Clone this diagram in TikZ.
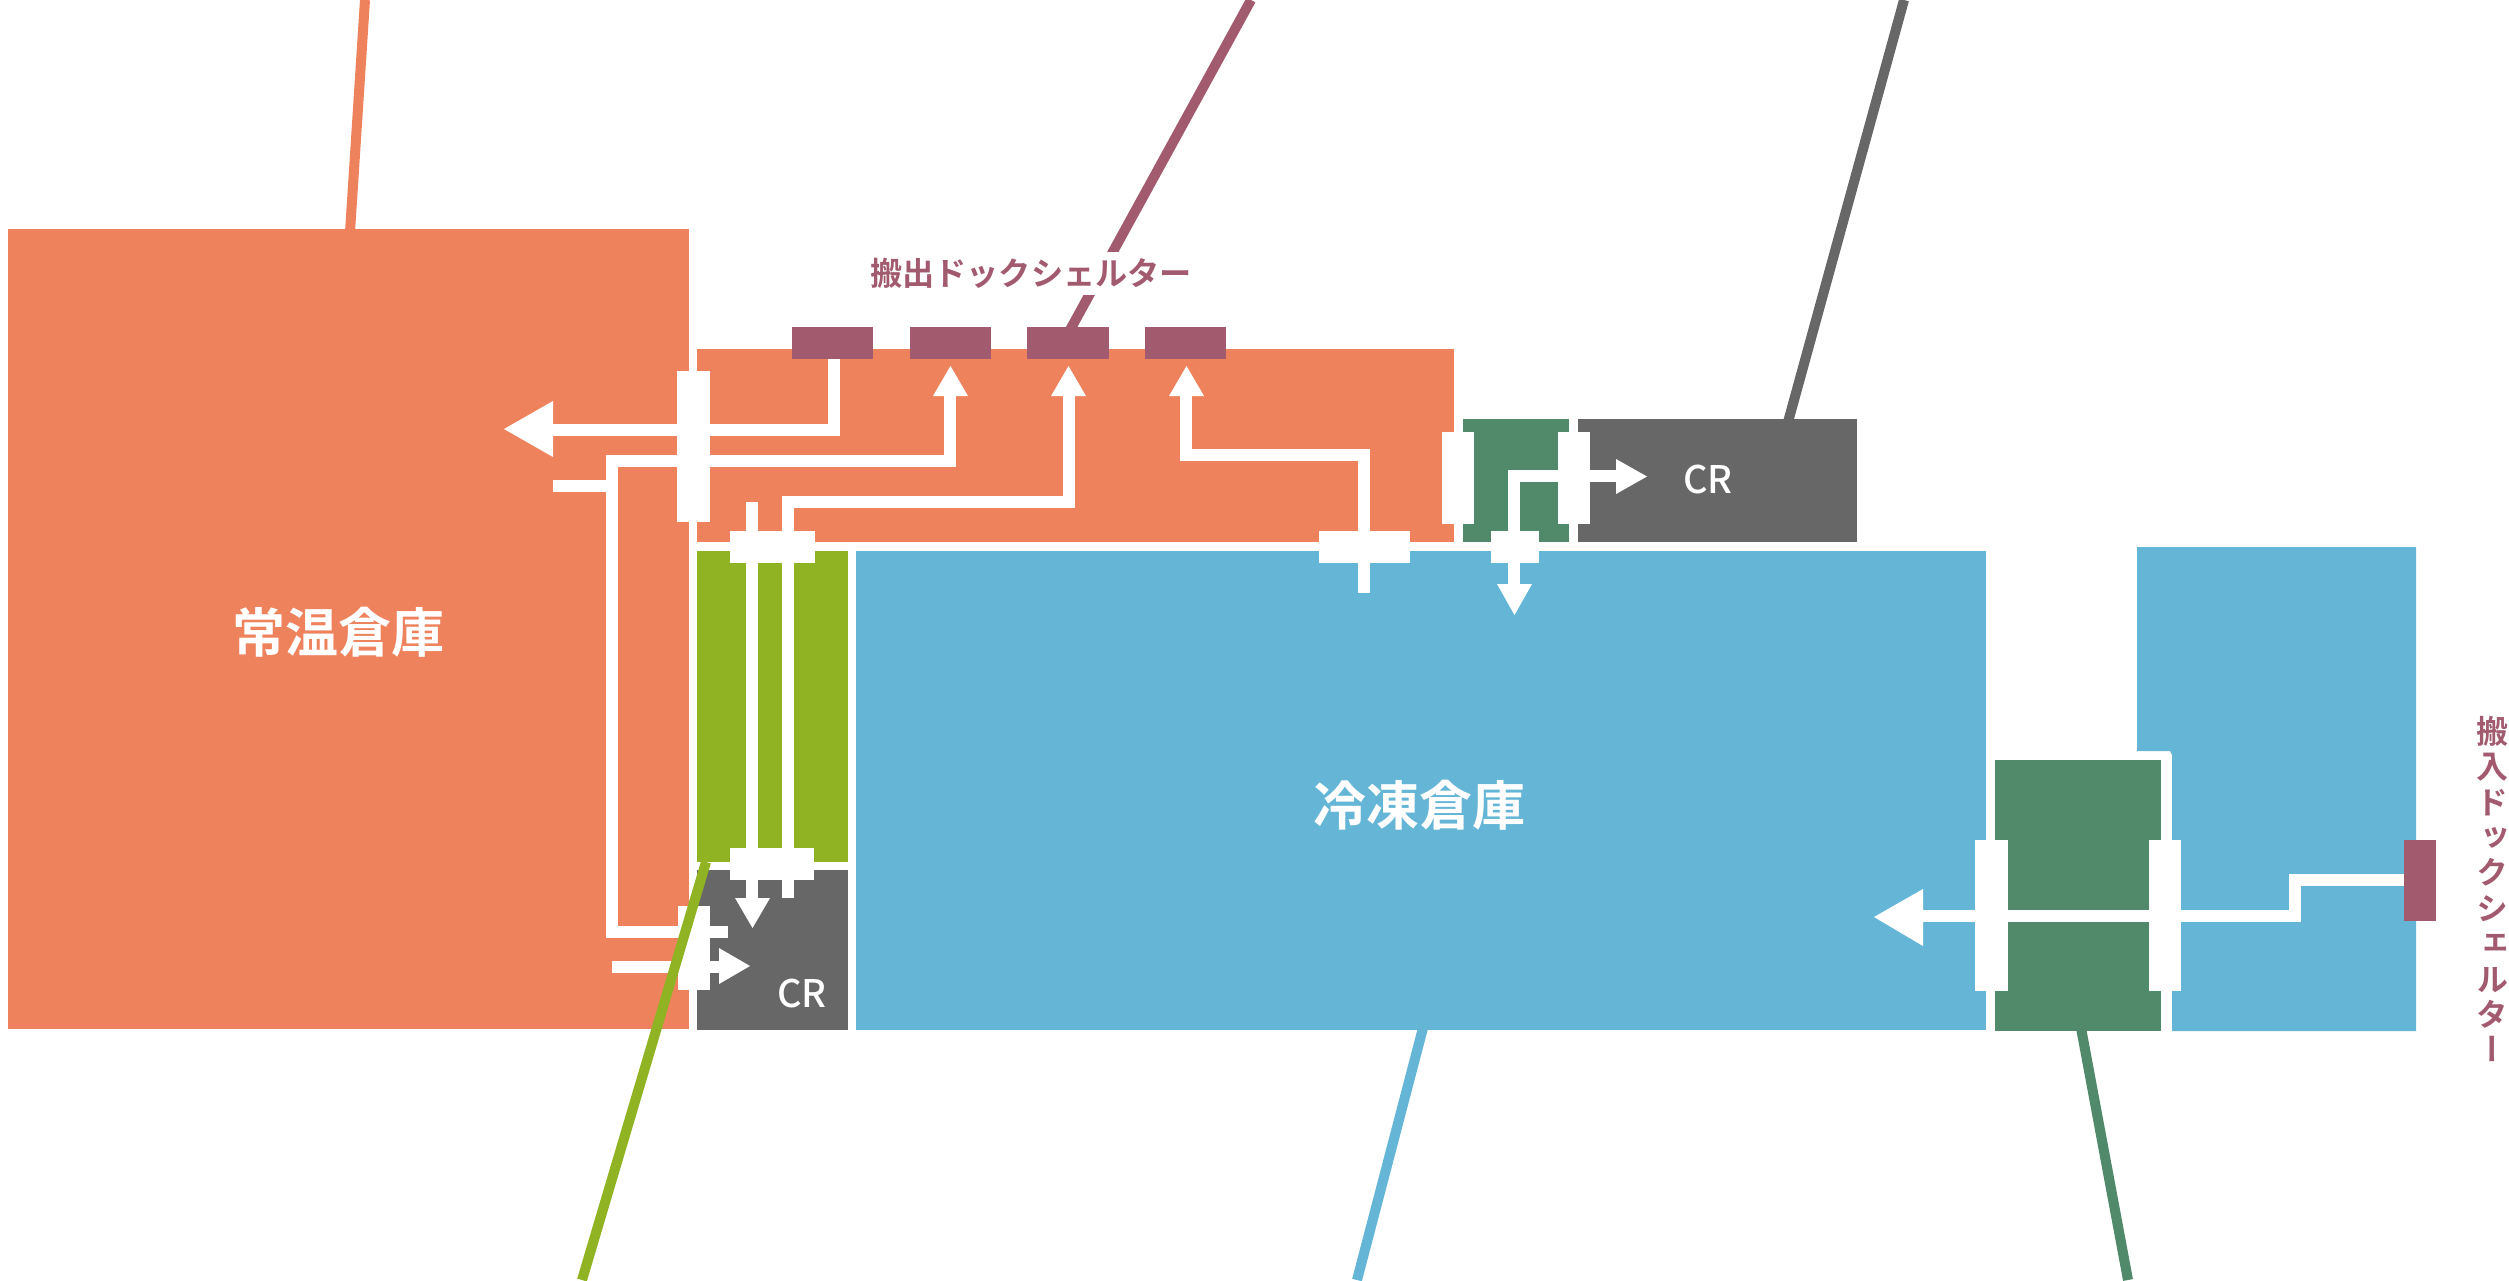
\documentclass[tikz,border=0pt]{standalone}
\usepackage{fontspec}
\setmainfont{Noto Sans CJK JP}
\newfontfamily\cjk[BoldFont={Noto Sans CJK JP Bold}]{Noto Sans CJK JP}
\newfontfamily\cjkm{Noto Sans CJK JP Medium}
\newfontfamily\cjkv[RawFeature=+vert]{Noto Sans CJK JP Bold}
\definecolor{orangec}{HTML}{EE825C}
\definecolor{bluec}{HTML}{65B6D6}
\definecolor{limec}{HTML}{8FB323}
\definecolor{greenc}{HTML}{518A6B}
\definecolor{grayc}{HTML}{676767}
\definecolor{purplec}{HTML}{A25A6F}
\tikzset{
  wline/.style={draw=white,line width=6pt,line join=miter},
  lead/.style={line width=5pt},
  door/.style={fill=white},
  head/.style={fill=white},
  big/.style={text=white,font=\cjk\bfseries\fontsize{26.5}{26.5}\selectfont,inner sep=0pt},
  crlabel/.style={text=white,font=\cjkm\fontsize{19}{19}\selectfont,inner sep=0pt},
}
\begin{document}
\begin{tikzpicture}[x=0.5pt,y=-0.5pt]
\useasboundingbox (0,0) rectangle (2509,1280);
% lead lines behind the blocks
\draw[lead,orangec] (350,232) -- (365,0);
\draw[lead,purplec] (1070,330) -- (1251,0);
\draw[lead,grayc] (1788,422) -- (1904,0);
\draw[lead,bluec] (1423,1028) -- (1357,1280);
\draw[lead,greenc] (2081,1028) -- (2128,1280);
% blocks
\fill[orangec] (8,229) rectangle (689,1029);
\fill[orangec] (697,349) rectangle (1454,542);
\fill[limec] (697,551) rectangle (848,862);
\fill[grayc] (697,870) rectangle (848,1030);
\fill[bluec] (856,551) rectangle (1986,1030);
\fill[bluec] (2137,547) -- (2416,547) -- (2416,1031) -- (2172,1031) -- (2172,755) -- (2170,751) -- (2137,751) -- cycle;
\fill[greenc] (1463,419) rectangle (1569,542);
\fill[grayc] (1578,419) rectangle (1857,542);
\fill[greenc] (1995,760) rectangle (2161,1031);
% dock shelters
\fill[purplec] (792,327) rectangle (873,359);
\fill[purplec] (910,327) rectangle (991,359);
\fill[purplec] (1027,327) rectangle (1109,359);
\fill[purplec] (1145,327) rectangle (1226,359);
\fill[purplec] (2404,840) rectangle (2436,921);
% routes
\draw[wline] (834,359) -- (834,430) -- (553,430);
\fill[head] (553,401) -- (504,429) -- (553,457) -- cycle;
\draw[wline] (553,486) -- (612,486);
\draw[wline] (950,396) -- (950,461) -- (612,461) -- (612,932) -- (728,932);
\fill[head] (933,396) -- (950.5,366) -- (968,396) -- cycle;
\draw[wline] (1069,396) -- (1069,502) -- (788,502) -- (788,898);
\fill[head] (1051,396) -- (1068.5,366) -- (1086,396) -- cycle;
\draw[wline] (752,502) -- (752,898);
\fill[head] (735,898) -- (752.5,928) -- (770,898) -- cycle;
\draw[wline] (612,967) -- (719,967);
\fill[head] (719,948) -- (750,966) -- (719,984) -- cycle;
\draw[wline] (1186,396) -- (1186,455) -- (1364,455) -- (1364,593);
\fill[head] (1169,396) -- (1186.5,366) -- (1204,396) -- cycle;
\draw[wline] (1616,476) -- (1514,476) -- (1514,584);
\fill[head] (1616,459) -- (1647,476.5) -- (1616,494) -- cycle;
\fill[head] (1497,584) -- (1514.5,615) -- (1532,584) -- cycle;
\draw[wline] (2404,880) -- (2295,880) -- (2295,916) -- (1923,916);
\fill[head] (1923,889) -- (1874,917) -- (1923,946) -- cycle;
% doors
\fill[door] (677,371) rectangle (710,522);
\fill[door] (730,531) rectangle (815,563);
\fill[door] (730,848) rectangle (814,880);
\fill[door] (678,906) rectangle (710,990);
\fill[door] (1319,531) rectangle (1410,563);
\fill[door] (1442,432) rectangle (1474,524);
\fill[door] (1558,432) rectangle (1590,524);
\fill[door] (1491,531) rectangle (1539,563);
\fill[door] (1975,840) rectangle (2008,991);
\fill[door] (2149,840) rectangle (2181,991);
% lime lead line over the top
\draw[lead,limec] (706,862) -- (582,1280);
% labels
\node[big] (ambient) at (338,632) {常温倉庫};
\node[big] (frozen) at (1419,805) {冷凍倉庫};
\node[crlabel] (cr1) at (1708,480) {CR};
\node[crlabel] (cr2) at (802,993) {CR};
\node[fill=white,inner sep=0pt,minimum width=166pt,minimum height=21.5pt,text=purplec,font=\cjk\bfseries\fontsize{16.1}{16.1}\selectfont] (outlabel) at (1031,273) {搬出ドックシェルター};
\node[text=purplec,inner sep=0pt,align=center,font=\cjkv\fontsize{16}{17.7}\selectfont] (inlabel) at (2492,889) {搬\\入\\ド\\ッ\\ク\\シ\\ェ\\ル\\タ\\ー};
\end{tikzpicture}
\end{document}
